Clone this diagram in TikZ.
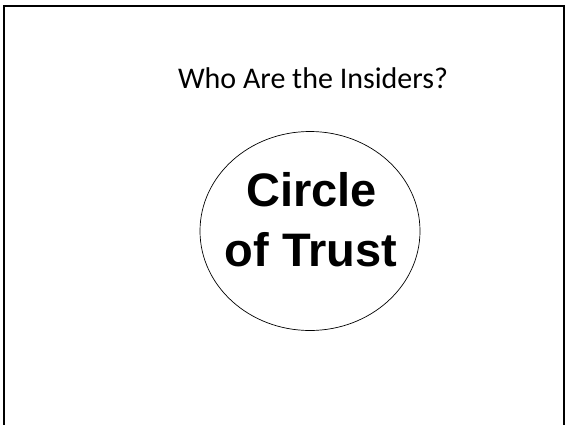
\documentclass[tikz,border=0pt]{standalone}
\usepackage{fontspec}
\setmainfont{Liberation Sans}
\newfontfamily\titlefont{Carlito}
\begin{document}
\begin{tikzpicture}[x=1pt,y=-1pt,
  frameline/.style={line width=2pt,black},
  titletext/.style={font=\titlefont\fontsize{30}{36}\selectfont,anchor=base,inner sep=0pt},
  trusttext/.style={font=\bfseries\fontsize{47}{54}\selectfont,anchor=base,inner sep=0pt}]
\useasboundingbox (0,0) rectangle (565,424);
\clip (0,0) rectangle (565,424);
\draw[frameline] (4,430) -- (4,6) -- (564,6) -- (564,430);
\node[titletext] (title) at (313,88.3) {Who Are the Insiders?};
\draw[line width=0.7pt] (310,231) ellipse [x radius=110, y radius=99.5];
\node[trusttext] (line1) at (311.5,206.7) {Circle};
\node[trusttext] (line2) at (311,266) {of Trust};
\end{tikzpicture}
\end{document}
